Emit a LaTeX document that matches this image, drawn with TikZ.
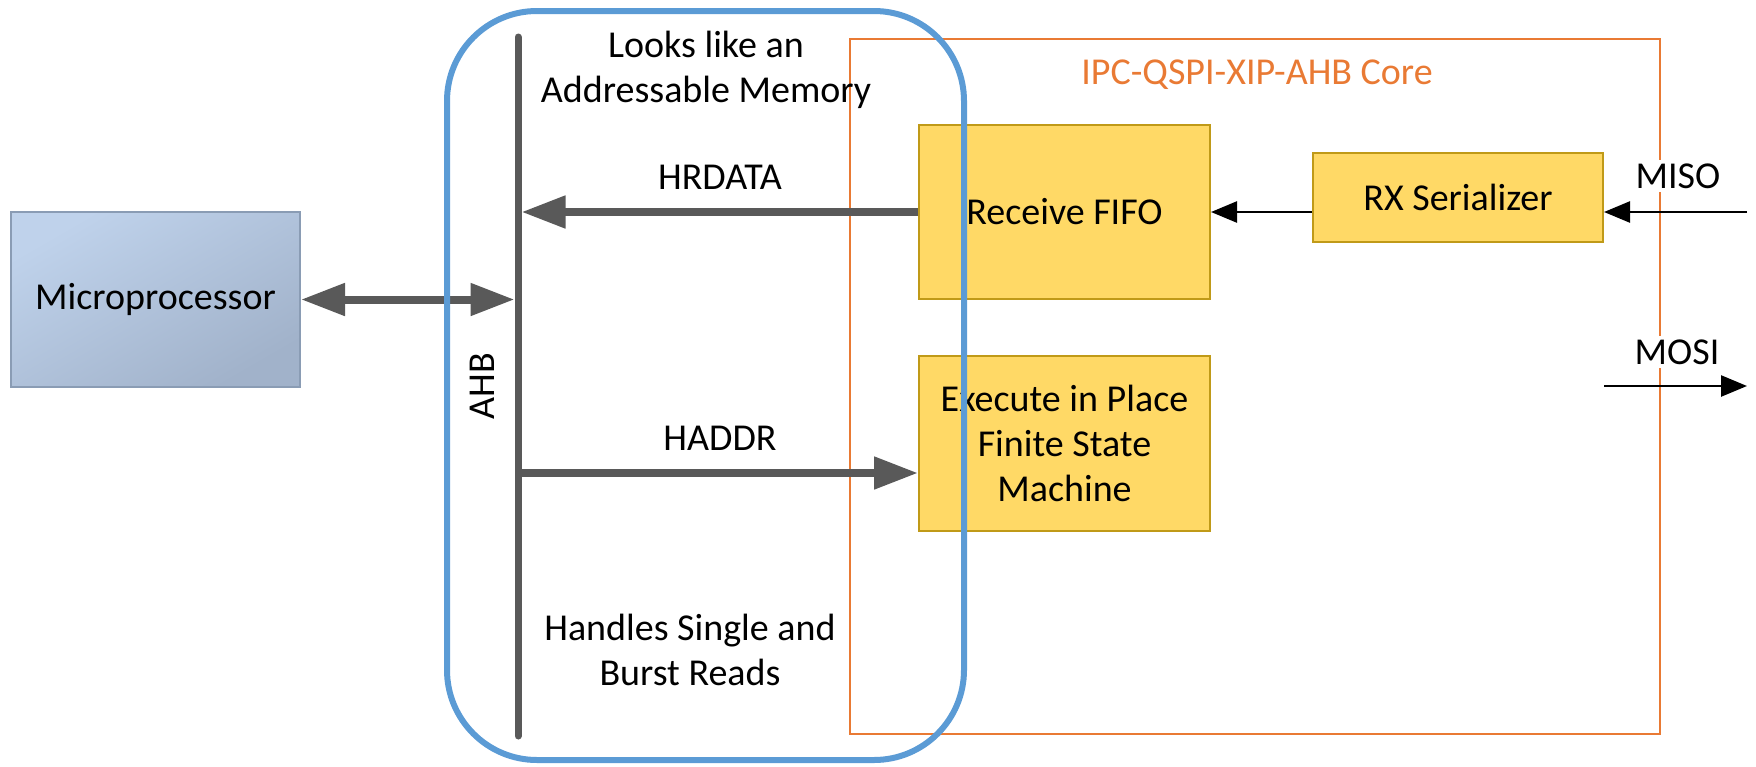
\documentclass[tikz,border=0pt]{standalone}
\usepackage{fontspec}
\setmainfont{Carlito}
\usetikzlibrary{arrows.meta}

\definecolor{busgray}{HTML}{595959}
\definecolor{rimblue}{HTML}{5B9BD5}
\definecolor{coreorange}{HTML}{E97A34}
\definecolor{boxyellow}{HTML}{FFD966}
\definecolor{boxedge}{HTML}{C09A18}
\definecolor{mplight}{HTML}{BFD2EB}
\definecolor{mpdark}{HTML}{A1B2CA}
\definecolor{mpedge}{HTML}{8A9CB4}

\begin{document}
\begin{tikzpicture}[%
          x=1pt, y=-1pt,
          every node/.style={font=\fontsize{38}{45}\selectfont, inner sep=0pt},
          mpbox/.style={draw=mpedge, line width=2pt, top color=mplight, bottom color=mpdark,
                        shading angle=30, minimum width=289pt, minimum height=175pt},
          ybox/.style={draw=boxedge, line width=2pt, fill=boxyellow, align=center,
                       minimum width=291pt},
          core/.style={draw=coreorange, line width=2pt},
          rim/.style={draw=rimblue, line width=6pt, rounded corners=90pt},
          fat/.style={draw=busgray, line width=8pt, >={Triangle[length=44pt,width=31pt]}},
          slim/.style={draw=black, line width=2.5pt, >={Triangle[length=26pt,width=21pt]}},
          pin/.style={fill=white, inner sep=4pt}]

  \useasboundingbox (0,0) rectangle (1756,766);

  \node[core, minimum width=810pt, minimum height=695pt] (core) at (1255,386.5) {};
  \node[text=coreorange] (corelabel) at (1257,75) {IPC-QSPI-XIP-AHB Core};

  \node[mpbox] (mp) at (155.5,299.5) {Microprocessor};
  \node[ybox, minimum height=174pt] (fifo) at (1064.5,212) {Receive FIFO};
  \node[ybox, minimum height=175pt] (xip) at (1064.5,443.5)
    {Execute in Place\\Finite State\\Machine};
  \node[ybox, minimum width=290pt, minimum height=89pt] (rx) at (1458,197.5) {RX Serializer};

  \coordinate (bustop) at (518,37);
  \coordinate (busbot) at (518,736);
  \coordinate (haddr) at (518,473);
  \coordinate (misoin) at (1747,212);
  \coordinate (mosiout) at (1747,386);

  \draw[fat, <->, shorten >=3.5pt] (mp.east) -- (mp.east -| bustop);
  \draw[fat, ->, shorten >=3.5pt] (fifo.west) -- (fifo.west -| bustop);
  \draw[fat, ->] (haddr) -- (haddr -| xip.west);
  \draw[busgray, line width=7pt, line cap=round] (bustop) -- (busbot);

  \draw[slim, ->] (fifo.east -| rx.west) -- (fifo.east);
  \draw[slim, ->] (misoin) -- (misoin -| rx.east);
  \draw[slim, ->] (mosiout -| rx.east) -- (mosiout);

  \node[pin] (miso) at (1678,176) {MISO};
  \node[pin] (mosi) at (1677,352) {MOSI};

  \node (hrdata) at (720,177) {HRDATA};
  \node (haddrlabel) at (720,438) {HADDR};
  \node[rotate=90] (ahb) at (482,386) {AHB};
  \node[align=center] (looks) at (706,70) {Looks like an\\Addressable Memory};
  \node[align=center] (bursts) at (690,650) {Handles Single and\\Burst Reads};

  \node[rim, minimum width=517pt, minimum height=749pt] (mem) at (705.5,385.5) {};

\end{tikzpicture}
\end{document}
